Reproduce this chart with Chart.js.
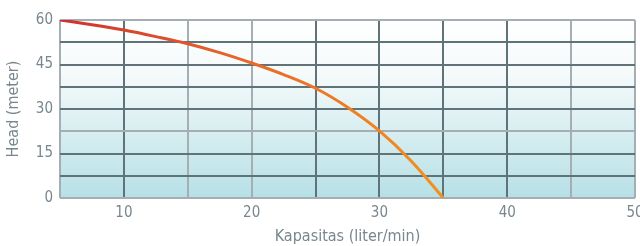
<!DOCTYPE html>
<html>
<head>
<meta charset="utf-8">
<script src="https://cdn.jsdelivr.net/npm/chart.js@4.4.0/dist/chart.umd.min.js"></script>
<style>
  html, body { margin: 0; padding: 0; background: #fff; }
  #wrap { width: 640px; height: 246px; }
</style>
</head>
<body>
<div id="wrap"><canvas id="chart"></canvas></div>
<script>
const flow = [5, 7.5, 10, 12.5, 15, 17.5, 20, 22.5, 25, 27.5, 30, 32.5, 35];
const head = [60, 58.4, 56.6, 54.4, 52, 49, 45.5, 41.6, 37, 30.6, 22.6, 12.4, 0];

const xTitle = 'Kapasitas (liter/min)';
const yTitle = 'Head (meter)';

const textColor = '#77878f';
const gridDark = '#607379';
const gridLight = '#a5aeb2';
const lightX = [5, 15, 20, 45, 50];
const lightY = [0, 22.5, 60];
const tickFont = { family: "'DejaVu Sans Condensed', 'Liberation Sans Narrow', sans-serif", size: 15 };
const titleFont = { family: "'DejaVu Sans Condensed', 'Liberation Sans Narrow', sans-serif", size: 16 };

// fondo degradado dentro del área del gráfico
const plotBg = {
    id: 'plotBg',
    beforeDraw(chart) {
        const { ctx, chartArea: a } = chart;
        const g = ctx.createLinearGradient(0, a.top, 0, a.bottom);
        g.addColorStop(0, '#ffffff');
        g.addColorStop(0.3, '#f5fafb');
        g.addColorStop(1, '#b6e0e6');
        ctx.save();
        ctx.fillStyle = g;
        ctx.fillRect(a.left, a.top, a.right - a.left, a.bottom - a.top);
        ctx.restore();
    }
};

function lineGradient(ctx) {
    const a = ctx.chart.chartArea;
    if (!a) return '#d94a2a';
    const g = ctx.chart.ctx.createLinearGradient(a.left, 0, a.left + (a.right - a.left) * 0.7, 0);
    g.addColorStop(0, '#cf2f2f');
    g.addColorStop(0.45, '#e8672a');
    g.addColorStop(1, '#f5951c');
    return g;
}

new Chart(document.getElementById('chart'), {
    type: 'line',
    data: {
        datasets: [{
            data: flow.map((x, i) => ({ x, y: head[i] })),
            borderColor: lineGradient,
            borderWidth: 3,
            pointRadius: 0,
            tension: 0.4,
            cubicInterpolationMode: 'monotone',
            fill: false
        }]
    },
    options: {
        responsive: true,
        maintainAspectRatio: false,
        animation: false,
        layout: { padding: { top: 20, right: 5, left: 0, bottom: 0 } },
        plugins: { legend: { display: false }, tooltip: { enabled: false } },
        scales: {
            x: {
                type: 'linear',
                min: 5,
                max: 50,
                border: { display: false },
                ticks: {
                    stepSize: 5,
                    color: textColor,
                    font: tickFont,
                    padding: 6,
                    maxRotation: 0,
                    callback: v => (v % 10 === 0 ? v : '')
                },
                grid: {
                    drawTicks: false,
                    lineWidth: 2,
                    color: c => (lightX.includes(c.tick && c.tick.value) ? gridLight : gridDark)
                },
                title: { display: true, text: xTitle, color: textColor, font: titleFont, padding: { top: 0, bottom: 0 } },
                afterFit: s => { s.height = 48; s.paddingRight = 5; s.paddingLeft = 0; }
            },
            y: {
                min: 0,
                max: 60,
                border: { display: false },
                ticks: {
                    stepSize: 7.5,
                    color: textColor,
                    font: tickFont,
                    padding: 7,
                    callback: v => (v % 15 === 0 ? v : '')
                },
                grid: {
                    drawTicks: false,
                    lineWidth: 2,
                    color: c => (lightY.includes(c.tick && c.tick.value) ? gridLight : gridDark)
                },
                title: { display: true, text: yTitle, color: textColor, font: titleFont, padding: { top: 4, bottom: 4 } },
                afterFit: s => { s.width = 60; }
            }
        }
    },
    plugins: [plotBg]
});
</script>
</body>
</html>
